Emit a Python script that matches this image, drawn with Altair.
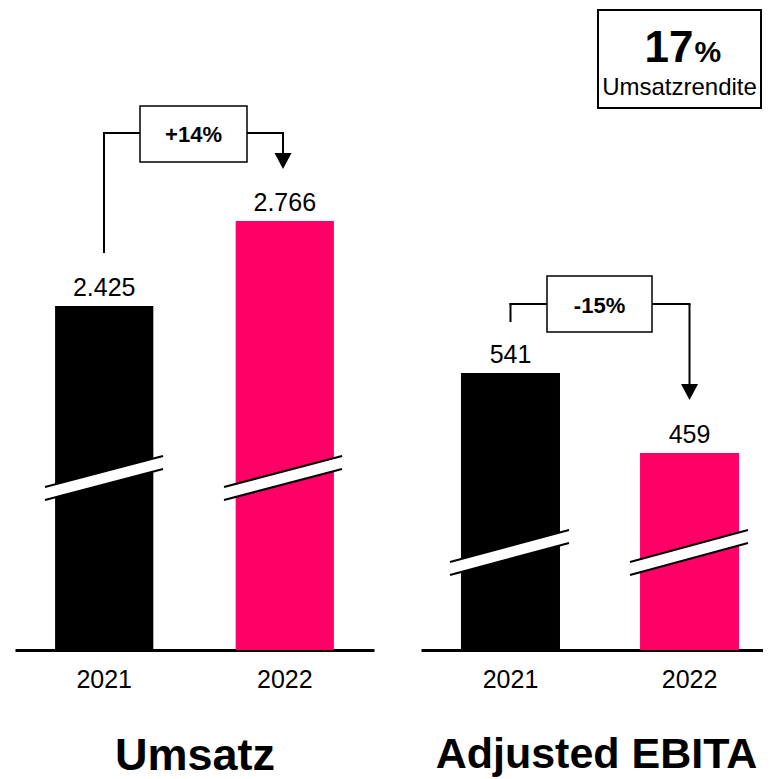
import altair as alt
import pandas as pd

# ---- chart values ----
years = ["2021", "2022"]
umsatz = [2425, 2766]
ebita = [541, 459]
bar_colors = ["#000000", "#FF0066"]
panel_titles = ["Umsatz", "Adjusted EBITA"]
changes = ["+14%", "-15%"]
margin_value = "17"
margin_unit = "%"
margin_label = "Umsatzrendite"

FONT = "Liberation Sans"
H = 640
one = pd.DataFrame({"k": [0]})


def de(v):
    return f"{v:,}".replace(",", ".")


def seg(x1, y1, x2, y2, color="black", w=2.0, cap="butt"):
    return alt.Chart(one).mark_rule(color=color, strokeWidth=w, strokeCap=cap).encode(
        x=alt.value(x1), x2=alt.value(x2), y=alt.value(y1), y2=alt.value(y2)
    )


def box(x1, y1, x2, y2, w=1.5):
    return alt.Chart(one).mark_rect(fill="white", stroke="black", strokeWidth=w).encode(
        x=alt.value(x1), x2=alt.value(x2), y=alt.value(y1), y2=alt.value(y2)
    )


def label(x, y, txt, size, weight="normal", align="center", baseline="middle"):
    return alt.Chart(one).mark_text(
        font=FONT, fontSize=size, fontWeight=weight, align=align, baseline=baseline, color="black"
    ).encode(x=alt.value(x), y=alt.value(y), text=alt.value(txt))


ARROW = "M-1,-0.94L1,-0.94L0,0.94Z"


def tri(x, y):
    return alt.Chart(one).mark_point(shape=ARROW, size=289, filled=True, color="black", opacity=1, strokeWidth=0).encode(
        x=alt.value(x), y=alt.value(y)
    )


def stripe(xa, xb, ya, yb):
    g = 13
    return [
        seg(xa, ya + g / 2, xb, yb + g / 2, color="white", w=12),
        seg(xa, ya, xb, yb, w=2),
        seg(xa, ya + g, xb, yb + g, w=2),
    ]


def panel(vals, domain, width, pin, pout, align, title, title_size, title_x, decos):
    df = pd.DataFrame({
        "year": years,
        "value": vals,
        "label": [de(v) for v in vals],
        "color": bar_colors,
    })
    x = alt.X(
        "year:N",
        sort=years,
        scale=alt.Scale(paddingInner=pin, paddingOuter=pout, align=align),
        axis=alt.Axis(title=title, labelAngle=0, titleFontSize=title_size, titleX=title_x),
    )
    y = alt.Y("value:Q", scale=alt.Scale(domain=domain, zero=False, nice=False), axis=None)
    bars = alt.Chart(df).mark_bar().encode(
        x=x, y=y, y2=alt.datum(domain[0]), color=alt.Color("color:N", scale=None)
    )
    vlabels = alt.Chart(df).mark_text(
        font=FONT, fontSize=25, baseline="alphabetic", dy=-10, color="black"
    ).encode(x=x, y=y, text="label:N")
    return alt.layer(bars, *decos, vlabels).properties(width=width, height=H)


left_decos = (
    stripe(30, 148, 477, 446)
    + stripe(209, 327, 477, 446)
    + [
        seg(89, 242, 89, 123, cap="square"),
        seg(89, 123, 268, 123, cap="square"),
        seg(268, 123, 268, 145),
        tri(268, 151),
        box(125, 96, 232, 152),
        label(178.5, 125, changes[0], 22, "bold"),
    ]
)

right_decos = (
    stripe(29, 148, 552, 520)
    + stripe(209, 327, 552, 520)
    + [
        seg(89.5, 311, 89.5, 294, cap="square"),
        seg(89.5, 294, 268.5, 294, cap="square"),
        seg(268.5, 294, 268.5, 376),
        tri(268.5, 382),
        box(126, 266, 231, 322),
        label(178.5, 296, changes[1], 22, "bold"),
        box(177, 0, 340, 98, w=2),
        label(272.5, 52, margin_value, 44, "bold", align="right", baseline="alphabetic"),
        label(273.5, 52, margin_unit, 30, "bold", align="left", baseline="alphabetic"),
        label(258.5, 85, margin_label, 24, "normal", baseline="alphabetic"),
    ]
)

left = panel(umsatz, [1045, 3613], 359, 0.456, 0.222, 0.5, panel_titles[0], 45, 179.5, left_decos)
right = panel(ebita, [257, 913], 359, 0.447, 0.226, 0.494, panel_titles[1], 43, 175, right_decos)

chart = (
    alt.hconcat(left, right, spacing=47)
    .properties(
        autosize=alt.AutoSizeParams(type="none"),
        padding={"left": 7, "top": 2, "right": 748, "bottom": 769},
    )
    .configure_view(stroke=None)
    .configure_axis(
        grid=False,
        domainColor="black",
        domainWidth=3,
        ticks=False,
        tickSize=0,
        labelFont=FONT,
        labelFontSize=25,
        labelColor="black",
        labelPadding=17,
        titleFont=FONT,
        titleFontWeight="bold",
        titleColor="black",
        titlePadding=41,
    )
)

chart.save("out.html", embed_options={"renderer": "svg", "actions": False})
